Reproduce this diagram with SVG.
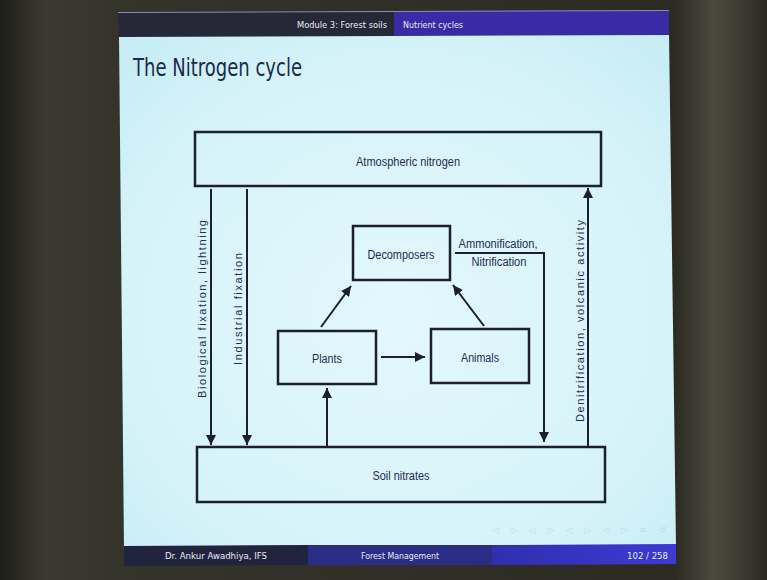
<svg xmlns="http://www.w3.org/2000/svg" width="767" height="580" viewBox="0 0 767 580">
  <defs>
    <linearGradient id="room" x1="0" y1="0" x2="1" y2="0">
      <stop offset="0" stop-color="#1f1f19"/>
      <stop offset="0.06" stop-color="#3a3a30"/>
      <stop offset="0.15" stop-color="#34342b"/>
      <stop offset="0.88" stop-color="#2b2b23"/>
      <stop offset="0.93" stop-color="#4a4a3e"/>
      <stop offset="0.97" stop-color="#3a3a30"/>
      <stop offset="1" stop-color="#2a2a22"/>
    </linearGradient>
    <radialGradient id="body" cx="0.5" cy="0.55" r="0.7">
      <stop offset="0" stop-color="#e3f8fc"/>
      <stop offset="0.7" stop-color="#d6f3f9"/>
      <stop offset="1" stop-color="#c8edf5"/>
    </radialGradient>
    <linearGradient id="footR" x1="0" y1="0" x2="1" y2="0">
      <stop offset="0" stop-color="#2f2fae"/>
      <stop offset="1" stop-color="#3d3ad6"/>
    </linearGradient>
    <marker id="ah" viewBox="0 0 10 10" refX="10" refY="5" markerWidth="10" markerHeight="10" markerUnits="userSpaceOnUse" orient="auto">
      <path d="M0,0 L10,5 L0,10 z" fill="#1b1f2e"/>
    </marker>
    <style>
      .box { fill: none; stroke: #1b1f2e; stroke-width: 2.5; }
      .edge { fill: none; stroke: #1b1f2e; stroke-width: 2; }
      .lbl { font-family: "Liberation Sans", Arial, sans-serif; font-size: 12px; fill: #1f2d55; text-anchor: middle; }
      .rot { font-family: "Liberation Sans", Arial, sans-serif; font-size: 11px; fill: #1f2d55; text-anchor: middle; }
      .hdr { font-family: "DejaVu Sans Condensed", "DejaVu Sans", sans-serif; font-size: 9.5px; fill: #e8ecf5; }
    </style>
  </defs>

  <!-- room / projector surroundings -->
  <rect x="0" y="0" width="767" height="580" fill="url(#room)"/>

  <!-- slide body -->
  <polygon points="119,35 669,33 676,547 124,549" fill="url(#body)"/>

  <!-- header -->
  <g id="header">
    <polygon points="118,12 394,11 394,36 119,37" fill="#262838"/>
    <polygon points="394,11 669,10 669,35 394,36" fill="#3a2aa6"/>
    <line x1="118" y1="12.5" x2="669" y2="10.5" stroke="#8a8fb0" stroke-width="1"/>
    <text class="hdr" x="387" y="28" text-anchor="end" textLength="90" lengthAdjust="spacingAndGlyphs">Module 3: Forest soils</text>
    <text class="hdr" x="403" y="28" textLength="60" lengthAdjust="spacingAndGlyphs">Nutrient cycles</text>
  </g>

  <!-- title -->
  <text id="title" x="133" y="76" font-family="'DejaVu Sans Condensed', 'DejaVu Sans', sans-serif" font-size="24" fill="#1c2a4c" textLength="169" lengthAdjust="spacingAndGlyphs">The Nitrogen cycle</text>

  <!-- nodes -->
  <g id="atmospheric">
    <rect class="box" x="195" y="132" width="406" height="54"/>
    <text class="lbl" x="408" y="166" textLength="104" lengthAdjust="spacingAndGlyphs">Atmospheric nitrogen</text>
  </g>
  <g id="soil">
    <rect class="box" x="197" y="447" width="408" height="55"/>
    <text class="lbl" x="401" y="480" textLength="57" lengthAdjust="spacingAndGlyphs">Soil nitrates</text>
  </g>
  <g id="decomposers">
    <rect class="box" x="353" y="226" width="97" height="54"/>
    <text class="lbl" x="401" y="259" textLength="67" lengthAdjust="spacingAndGlyphs">Decomposers</text>
  </g>
  <g id="plants">
    <rect class="box" x="278" y="331" width="98" height="53"/>
    <text class="lbl" x="327" y="363" textLength="30" lengthAdjust="spacingAndGlyphs">Plants</text>
  </g>
  <g id="animals">
    <rect class="box" x="431" y="329" width="98" height="54"/>
    <text class="lbl" x="480" y="362" textLength="38" lengthAdjust="spacingAndGlyphs">Animals</text>
  </g>

  <!-- connectors -->
  <g id="connectors">
    <line class="edge" x1="211" y1="189" x2="211" y2="445" marker-end="url(#ah)"/>
    <line class="edge" x1="247" y1="189" x2="247" y2="445" marker-end="url(#ah)"/>
    <line class="edge" x1="588" y1="447" x2="588" y2="188" marker-end="url(#ah)"/>
    <line class="edge" x1="327" y1="447" x2="327" y2="388" marker-end="url(#ah)"/>
    <line class="edge" x1="381" y1="357" x2="425" y2="357" stroke-width="2.5" marker-end="url(#ah)"/>
    <line class="edge" x1="321" y1="327" x2="351" y2="286" stroke-width="2.5" marker-end="url(#ah)"/>
    <line class="edge" x1="484" y1="326" x2="453" y2="285" stroke-width="2.5" marker-end="url(#ah)"/>
    <polyline class="edge" points="455,253 544,253 544,442" marker-end="url(#ah)"/>

    <text class="rot" transform="translate(206,309) rotate(-90)" textLength="178" lengthAdjust="spacing">Biological fixation, lightning</text>
    <text class="rot" transform="translate(242,309) rotate(-90)" textLength="112" lengthAdjust="spacing">Industrial fixation</text>
    <text class="rot" transform="translate(584,321) rotate(-90)" textLength="202" lengthAdjust="spacing">Denitrification, volcanic activity</text>
    <text class="lbl" x="498" y="248" textLength="79" lengthAdjust="spacingAndGlyphs">Ammonification,</text>
    <text class="lbl" x="499" y="266" textLength="55" lengthAdjust="spacingAndGlyphs">Nitrification</text>
  </g>

  <!-- navigation symbols (faint) -->
  <text x="492" y="533" font-family="'DejaVu Sans', sans-serif" font-size="9" fill="#bfe0e8" textLength="174" lengthAdjust="spacing">◁ ▷ ◁ ▷ ◁ ▷ ◁ ▷ ≡ ↺</text>

  <!-- footer -->
  <g id="footer">
    <polygon points="124,546 308,545 308,565 124,566" fill="#20243f"/>
    <polygon points="308,545 492,545 492,565 308,565" fill="#2a2c86"/>
    <polygon points="492,545 676,544 676,564 492,565" fill="url(#footR)"/>
    <text class="hdr" x="165" y="559" textLength="102" lengthAdjust="spacingAndGlyphs">Dr. Ankur Awadhiya, IFS</text>
    <text class="hdr" x="361" y="559" textLength="78" lengthAdjust="spacingAndGlyphs">Forest Management</text>
    <text class="hdr" x="627" y="559" textLength="41" lengthAdjust="spacingAndGlyphs">102 / 258</text>
  </g>
</svg>
